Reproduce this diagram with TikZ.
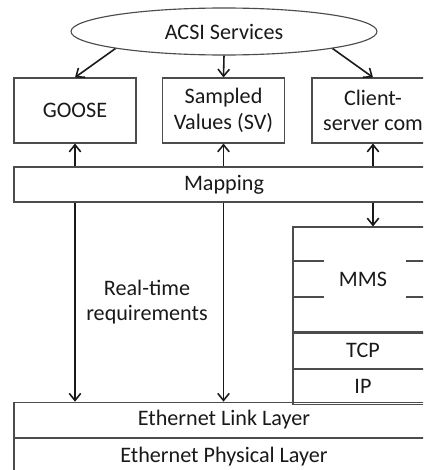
\documentclass[tikz,border=0pt]{standalone}
\usepackage{fontspec}
\setmainfont{Carlito}
\usetikzlibrary{arrows.meta, positioning, shapes}

\tikzset{
    layer/.style={draw=black!70, line width=0.65pt, text=black!90, align=center,
        inner sep=0pt, font=\fontsize{12.6}{14.5}\selectfont},
    servicebox/.style={layer, minimum width=2.44cm, minimum height=1.3cm},
    stackbox/.style={layer, minimum width=2.8cm, minimum height=0.7cm},
    widebox/.style={layer, minimum width=8.4cm, minimum height=0.71cm},
    flow/.style={-{Straight Barb[length=4pt,width=6.5pt]}, line width=0.9pt, black!90}
}

\begin{document}
\begin{tikzpicture}[x=0.02cm, y=-0.02cm]
    \useasboundingbox (0,0) rectangle (423,470);
    \clip (0,0) rectangle (423,470);

    \node (acsi) [layer, ellipse, minimum width=6.12cm, minimum height=0.94cm] at (224,31.5) {ACSI Services};
    \node (goose) [servicebox] at (75,110.5) {GOOSE};
    \node (sv) [servicebox] at (223.5,110.5) {Sampled\\Values (SV)};
    \node (client) [servicebox] at (373,110.5) {Client-\\server com};
    \node (mapping) [widebox, minimum height=0.7cm] at (224,184.5) {Mapping};

    \node (mms) [stackbox, minimum height=2.1cm] at (363,279.5) {MMS};
    \node (tcp) [stackbox, below=0pt of mms] {TCP};
    \node (ip) [stackbox, below=0pt of tcp] {IP};

    \node (link) [widebox] at (224,420) {Ethernet Link Layer};
    \node (phys) [widebox, below=0pt of link] {Ethernet Physical Layer};

    \node (realtime) [align=center, text=black!90, font=\fontsize{12.6}{14}\selectfont] at (147,302) {Real-time\\requirements};

    % stubs inside MMS
    \draw[black!70, line width=0.65pt] (mms.west |- 0,261) -- ++(32,0) (mms.west |- 0,297) -- ++(32,0);
    \draw[black!70, line width=0.65pt] (mms.east |- 0,261) -- ++(-28,0) (mms.east |- 0,297) -- ++(-28,0);

    \draw[flow] (acsi.south west) -- (goose.north);
    \draw[flow] (acsi.south) -- (sv.north);
    \draw[flow] (acsi.south east) -- (client.north);

    \draw[flow] (goose |- mapping.north) -- (goose.south);
    \draw[flow] (sv |- mapping.north) -- (sv.south);
    \draw[flow] (client |- mapping.north) -- (client.south);

    \draw[flow] (goose |- mapping.south) -- (goose |- link.north);
    \draw[flow] (sv |- mapping.south) -- (sv |- link.north);
    \draw[flow] (client |- mapping.south) -- (client |- mms.north);
\end{tikzpicture}
\end{document}
